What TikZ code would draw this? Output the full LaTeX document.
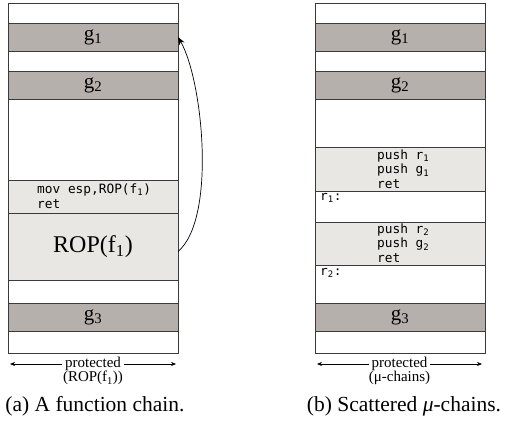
\documentclass[tikz,border=0pt]{standalone}
\usepackage{fontspec}
\setmainfont{Liberation Serif}
\setmonofont{DejaVu Sans Mono}
\usetikzlibrary{arrows.meta}
\definecolor{framegray}{HTML}{3A3A3A}
\definecolor{gadgetgray}{HTML}{B5B0AB}
\definecolor{codegray}{HTML}{E8E7E3}
\tikzset{
	band/.style={draw=framegray, line width=0.9pt, minimum width=170pt, inner sep=0pt, outer sep=0pt, anchor=north west},
	gadget/.style={band, fill=gadgetgray, minimum height=28pt, font=\fontsize{21}{21}\selectfont},
	codeblock/.style={band, fill=codegray},
	asm/.style={font=\ttfamily\fontsize{12.8}{14.5}\selectfont, align=left, anchor=west, inner sep=0pt},
	extent/.style={{Stealth[length=5pt,width=4pt]}-{Stealth[length=5pt,width=4pt]}, line width=0.6pt},
	labeltext/.style={font=\fontsize{15}{15}\selectfont, inner sep=0pt},
	captiontext/.style={font=\fontsize{21.5}{21.5}\selectfont, inner sep=0pt},
}
\begin{document}
\begin{tikzpicture}[x=1pt,y=-1pt]
		\useasboundingbox (0,0) rectangle (508,430);
		% function chain
		\node[band, minimum height=350pt] (lframe) at (8,3) {};
		\node[gadget] (lg1) at (8,23) {g\textsubscript{1}};
		\node[gadget] (lg2) at (8,71) {g\textsubscript{2}};
		\node[codeblock, minimum height=33pt] (ljmp) at (8,180) {};
		\node[codeblock, minimum height=67pt, font=\fontsize{24}{24}\selectfont] (lrop) at (8,213) {ROP(f\textsubscript{1})};
		\node[gadget] (lg3) at (8,303) {g\textsubscript{3}};
		\node[asm] (ljmptext) at (37,196) {mov esp,ROP(f\textsubscript{1})\\ret};
		\draw[-{Stealth[length=8pt,width=6pt]}, line width=0.7pt] ([yshift=-5pt]lrop.east) to[out=40, in=-60, looseness=0.6] (lg1.east);
		% scattered mu-chains
		\node[band, minimum height=350pt] (rframe) at (315,3) {};
		\node[gadget] (rg1) at (315,23) {g\textsubscript{1}};
		\node[gadget] (rg2) at (315,71) {g\textsubscript{2}};
		\node[codeblock, minimum height=44pt] (rpush1) at (315,147) {};
		\node[codeblock, minimum height=43pt] (rpush2) at (315,222) {};
		\node[gadget] (rg3) at (315,303) {g\textsubscript{3}};
		\node[asm] (rpush1text) at (377,169) {push r\textsubscript{1}\\push g\textsubscript{1}\\ret};
		\node[asm] (rpush2text) at (377,243) {push r\textsubscript{2}\\push g\textsubscript{2}\\ret};
		\node[asm] (rret1) at (320,198) {r\textsubscript{1}:};
		\node[asm] (rret2) at (320,273) {r\textsubscript{2}:};
		% protected ranges
		\coordinate (lspanl) at (10,364);
		\coordinate (lspanr) at (176,364);
		\coordinate (rspanl) at (317,364);
		\coordinate (rspanr) at (482,364);
		\draw[extent] (lspanl) -- node[labeltext, fill=white, inner xsep=3pt] (lprot) {protected} (lspanr);
		\draw[extent] (rspanl) -- node[labeltext, fill=white, inner xsep=3pt] (rprot) {protected} (rspanr);
		\node[labeltext, anchor=north] (lprotwhat) at (lprot.south) {(ROP(f\textsubscript{1}))};
		\node[labeltext, anchor=north] (rprotwhat) at (rprot.south) {(μ-chains)};
		\node[captiontext] (lcaption) at (95,406) {(a) A function chain.};
		\node[captiontext] (rcaption) at (404,406) {(b) Scattered {\itshape μ}-chains.};
\end{tikzpicture}
\end{document}
